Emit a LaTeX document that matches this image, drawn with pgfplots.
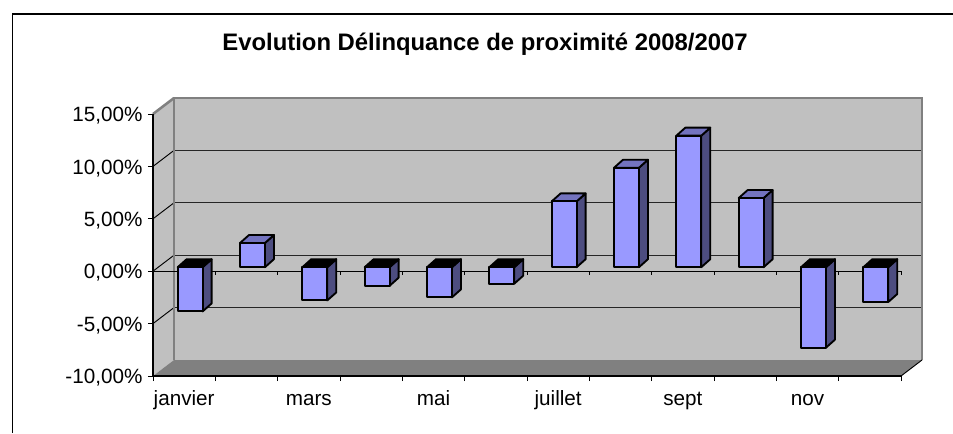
\documentclass[border=0pt]{standalone}
\usepackage{fontspec}
\setmainfont{Liberation Sans}
\usepackage{pgfplots}
\usepackage{pgfplotstable}
\pgfplotsset{compat=1.18}
\definecolor{wall}{HTML}{C0C0C0}
\definecolor{floorc}{HTML}{808080}
\definecolor{front}{HTML}{9999FF}
\definecolor{sidec}{HTML}{4D4D80}
\definecolor{topc}{HTML}{7373BF}
\pgfplotstableread{
x v
0.5 -4.22
1.5 2.31
2.5 -3.17
3.5 -1.77
4.5 -2.88
5.5 -1.57
6.5 6.28
7.5 9.49
8.5 12.55
9.5 6.60
10.5 -7.68
11.5 -3.32
}\bars
\newcommand\cube[3]{%
  \pgfmathsetmacro\xl{#1-0.2}\pgfmathsetmacro\xr{#1+0.2}%
  \pgfmathsetmacro\xL{#1-0.2+0.144}\pgfmathsetmacro\xR{#1+0.2+0.144}%
  \pgfmathsetmacro\yt{max(#2,0)}\pgfmathsetmacro\yb{min(#2,0)}%
  \pgfmathsetmacro\yT{\yt+0.763}\pgfmathsetmacro\yB{\yb+0.763}%
  \addplot[draw=black,line width=1.4pt,line join=round,fill=sidec] coordinates {(\xr,\yb) (\xr,\yt) (\xR,\yT) (\xR,\yB)} -- cycle;
  \addplot[draw=black,line width=1.4pt,line join=round,fill=#3] coordinates {(\xl,\yt) (\xr,\yt) (\xR,\yT) (\xL,\yT)} -- cycle;
}
\begin{document}
\begin{tikzpicture}[x=0.75pt,y=0.75pt]
\path[use as bounding box,fill=white] (0,0) rectangle (953,433);
\draw[black,line width=0.9pt] (12.5,0) -- (12.5,419) -- (953,419);
\node[font=\bfseries\fontsize{17.9}{21}\selectfont] at (485,388.5) {Evolution Délinquance de proximité 2008/2007};
\begin{axis}[
  at={(114.75pt,42.75pt)},anchor=south west,scale only axis,
  width=561pt,height=196.5pt,
  xmin=0,xmax=12,ymin=-10,ymax=15,
  clip=false,axis on top,
  axis x line*=bottom,axis y line*=left,
  axis line style={black,line width=0.8pt},
  tick style={black,line width=0.7pt},
  tick align=outside,major tick length=3.75pt,
  xtick={0,...,12},x tick label as interval,
  xticklabels={janvier,,mars,,mai,,juillet,,sept,,nov,},
  ytick={-10,-5,0,5,10,15},
  yticklabels={{-10,00\%},{-5,00\%},{0,00\%},{5,00\%},{10,00\%},{15,00\%}},
  tick label style={font=\fontsize{15.5}{18}\selectfont},
  yticklabel style={inner sep=0pt,xshift=-4pt,yshift=-1.3pt},
  xticklabel style={inner sep=0pt,yshift=-18pt,anchor=base,text height=0pt},
]
\addplot[fill=wall,draw=none] coordinates {(0,-10) (0.337,-8.473) (0.337,16.527) (0,15)} -- cycle;
\addplot[fill=wall,draw=none] coordinates {(0.337,-8.473) (12.337,-8.473) (12.337,16.527) (0.337,16.527)} -- cycle;
\addplot[fill=floorc,draw=none] coordinates {(0,-10) (12,-10) (12.337,-8.473) (0.337,-8.473)} -- cycle;
% back grid lines
\addplot[black!85,line width=0.8pt] coordinates {(0.337,-3.473) (12.337,-3.473)};
\addplot[black!85,line width=0.8pt] coordinates {(0.337,1.527) (12.337,1.527)};
\addplot[black!85,line width=0.8pt] coordinates {(0.337,6.527) (12.337,6.527)};
\addplot[black!85,line width=0.8pt] coordinates {(0.337,11.527) (12.337,11.527)};
% side grid lines
\addplot[black,line width=0.7pt] coordinates {(0,-5) (0.337,-3.473)};
\addplot[black,line width=0.7pt] coordinates {(0,0) (0.337,1.527)};
\addplot[black,line width=0.7pt] coordinates {(0,5) (0.337,6.527)};
\addplot[black,line width=0.7pt] coordinates {(0,10) (0.337,11.527)};
% wall edges
\addplot[floorc,line width=1.9pt] coordinates {(0.337,-8.473) (0.337,16.527) (12.337,16.527) (12.337,-8.473)};
\addplot[floorc,line width=1.9pt] coordinates {(0,15) (0.337,16.527)};
\addplot[black,line width=0.7pt] coordinates {(12,-10) (12.337,-8.473)};
% zero line and its ticks
\addplot[black,line width=0.8pt] coordinates {(0,0) (12,0)};
\addplot[ycomb,black,line width=0.7pt,no marks] coordinates {(1,-0.35) (2,-0.35) (3,-0.35) (4,-0.35) (5,-0.35) (6,-0.35) (7,-0.35) (8,-0.35) (9,-0.35) (10,-0.35) (11,-0.35) (12,-0.35)};
\end{axis}
\begin{axis}[
  at={(119.25pt,45.75pt)},anchor=south west,scale only axis,
  width=561pt,height=196.5pt,
  xmin=0,xmax=12,ymin=-10,ymax=15,
  clip=false,axis lines=none,
]
\cube{0.5}{-4.22}{black}
\cube{1.5}{2.31}{topc}
\cube{2.5}{-3.17}{black}
\cube{3.5}{-1.77}{black}
\cube{4.5}{-2.88}{black}
\cube{5.5}{-1.57}{black}
\cube{6.5}{6.28}{topc}
\cube{7.5}{9.49}{topc}
\cube{8.5}{12.55}{topc}
\cube{9.5}{6.60}{topc}
\cube{10.5}{-7.68}{black}
\cube{11.5}{-3.32}{black}
\addplot[ybar,bar width=18.75pt,bar shift=0pt,fill=front,draw=black,line width=1.4pt,line join=round] table[x=x,y=v] {\bars};
\end{axis}
\end{tikzpicture}
\end{document}
